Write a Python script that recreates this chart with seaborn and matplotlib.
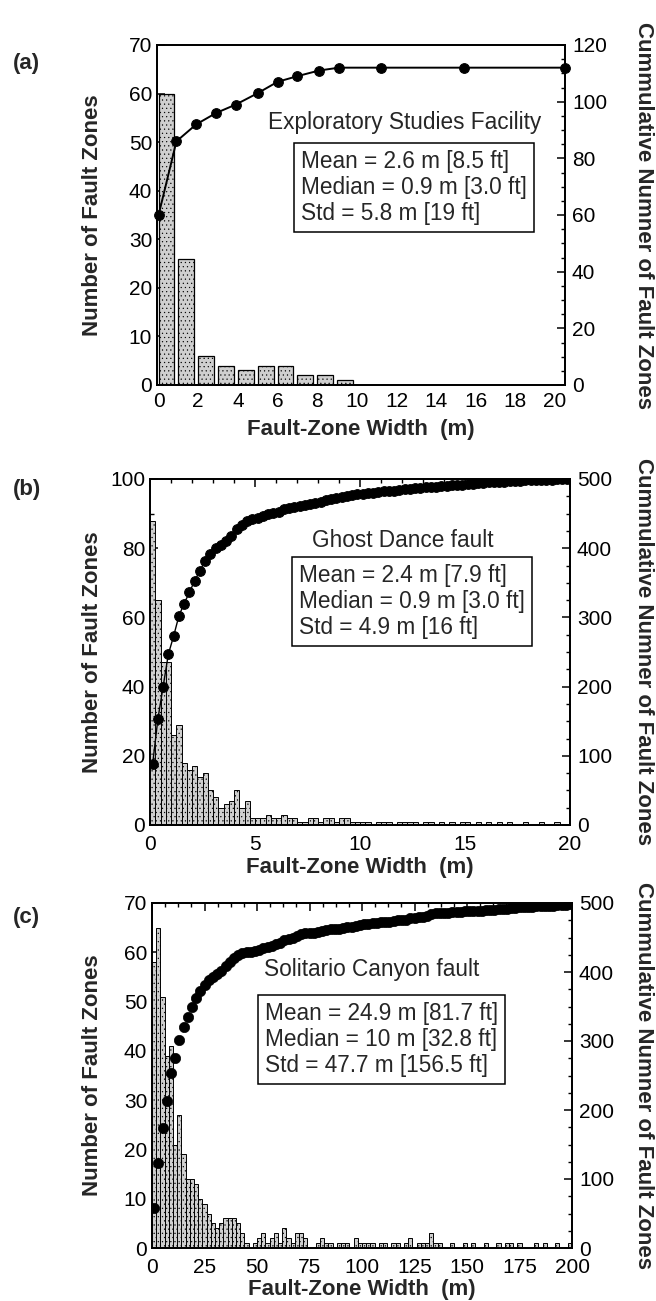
import numpy as np
import pandas as pd
import matplotlib
matplotlib.use("Agg")
import matplotlib.pyplot as plt
import seaborn as sns

# ---------------- data ----------------
# (a) Exploratory Studies Facility: 1 m bins
bins_a_left = [0, 1, 2, 3, 4, 5, 6, 7, 8, 9]
counts_a = [60, 26, 6, 4, 3, 4, 4, 2, 2, 1]
cum_x_a = [0.0, 0.9, 1.9, 2.9, 3.9, 5.0, 6.0, 7.0, 8.1, 9.1, 11.2, 15.4, 20.5]
cum_a = [60, 86, 92, 96, 99, 103, 107, 109, 111, 112, 112, 112, 112]

# (b) Ghost Dance fault: 0.25 m bins from 0 to 20 m
counts_b = [88, 65, 47, 47, 26, 29, 18, 16, 17, 14, 15, 10, 8, 5, 6, 7, 10, 5, 7, 2,
            2, 2, 3, 2, 2, 3, 2, 2, 1, 1, 2, 2, 1, 2, 2, 1, 2, 2, 1, 1,
            1, 1, 0, 1, 1, 1, 0, 1, 1, 1, 1, 0, 1, 1, 0, 1, 0, 1, 0, 1,
            1, 0, 1, 0, 1, 0, 1, 0, 1, 0, 0, 1, 0, 0, 1, 0, 0, 1, 0, 0]
bin_w_b = 0.25

# (c) Solitario Canyon fault: 2 m bins from 0 to 200 m
counts_c = [58, 65, 51, 39, 41, 21, 27, 19, 14, 14, 13, 10, 9, 7, 5, 4, 5, 6, 6, 6,
            5, 3, 1, 0, 1, 2, 3, 1, 2, 3, 1, 4, 2, 1, 3, 3, 2, 0, 0, 1,
            2, 1, 1, 0, 1, 1, 1, 0, 2, 1, 1, 1, 1, 0, 1, 1, 0, 1, 1, 0,
            1, 2, 0, 1, 1, 1, 3, 1, 1, 0, 0, 1, 0, 0, 1, 0, 1, 0, 0, 1,
            0, 0, 1, 0, 1, 1, 0, 1, 0, 0, 0, 1, 0, 1, 0, 0, 1, 0, 0, 1]
bin_w_c = 2.0

stats_a = ["Mean = 2.6 m [8.5 ft]", "Median = 0.9 m [3.0 ft]", "Std = 5.8 m [19 ft]"]
stats_b = ["Mean = 2.4 m [7.9 ft]", "Median = 0.9 m [3.0 ft]", "Std = 4.9 m [16 ft]"]
stats_c = ["Mean = 24.9 m [81.7 ft]", "Median = 10 m [32.8 ft]", "Std = 47.7 m [156.5 ft]"]
titles = ["Exploratory Studies Facility", "Ghost Dance fault", "Solitario Canyon fault"]
panel_tags = ["(a)", "(b)", "(c)"]

xlabel = "Fault-Zone Width  (m)"
ylabel_left = "Number of Fault Zones"
ylabel_right = "Cummulative Numner of Fault Zones"

# ---------------- style ----------------
sns.set_style("white")
plt.rcParams["font.family"] = ["Liberation Sans", "DejaVu Sans"]
plt.rcParams["hatch.linewidth"] = 0.35
plt.rcParams["axes.linewidth"] = 1.3
plt.rcParams["axes.edgecolor"] = "black"

fig = plt.figure(figsize=(6.56, 13.01), dpi=100)

W, H = 656.0, 1301.0


def axes_box(left, right, top, bottom):
    return [left / W, 1 - bottom / H, (right - left) / W, (bottom - top) / H]


boxes = [axes_box(157, 565, 45, 385),
         axes_box(150, 570, 479, 825),
         axes_box(152, 572, 903, 1248)]

TICK_FS = 15
LAB_FS = 16
TXT_FS = 16.3

bar_kw = dict(color="#cfcfcf", edgecolor="black", hatch="....", alpha=1.0)


def style_axes(ax, ax2, xpad=5):
    for a in (ax, ax2):
        a.tick_params(axis="both", which="both", direction="in", labelsize=TICK_FS,
                      colors="black")
        a.tick_params(which="major", length=6, width=1.1)
        a.tick_params(which="minor", length=3, width=1.0)
        for s in a.spines.values():
            s.set_color("black")
            s.set_linewidth(1.3)
    ax.tick_params(axis="x", pad=xpad)
    ax2.tick_params(axis="y", pad=5)
    ax.set_xlabel("")
    ax.set_ylabel("")
    ax2.set_ylabel("")


def hist_frame(centers, counts):
    return pd.DataFrame({"width": centers, "n": counts})


main_axes = []

# ---------------- panel (a) ----------------
ax = fig.add_axes(boxes[0])
centers_a = np.array(bins_a_left) + 0.4
sns.histplot(data=hist_frame(centers_a, counts_a), x="width", weights="n",
             binwidth=1.0, binrange=(-0.1, 9.9), shrink=0.8, ax=ax,
             linewidth=0.9, **bar_kw)
ax.set_xlim(-0.08, 20.5)
ax.set_ylim(0, 70)
ax.set_xticks(np.arange(0, 21, 2))
ax.set_yticks(np.arange(0, 71, 10))
ax2 = ax.twinx()
sns.lineplot(x=cum_x_a, y=cum_a, ax=ax2, color="black", linewidth=1.4,
             marker="o", markersize=7, markeredgecolor="black", clip_on=False)
ax2.set_ylim(0, 120)
ax2.set_yticks(np.arange(0, 121, 20))
ax2.set_yticks(np.arange(0, 121, 5), minor=True)
style_axes(ax, ax2, xpad=5)
main_axes.append(ax)

# ---------------- panel (b) ----------------
ax = fig.add_axes(boxes[1])
centers_b = (np.arange(len(counts_b)) + 0.5) * bin_w_b
sns.histplot(data=hist_frame(centers_b, counts_b), x="width", weights="n",
             binwidth=bin_w_b, binrange=(0, len(counts_b) * bin_w_b), shrink=1.0,
             ax=ax, linewidth=0.7, **bar_kw)
ax.set_xlim(0, 20)
ax.set_ylim(0, 100)
ax.set_xticks(np.arange(0, 21, 5))
ax.set_xticks(np.arange(0, 21, 1), minor=True)
ax.set_yticks(np.arange(0, 101, 20))
ax.set_yticks(np.arange(0, 101, 10), minor=True)
ax.tick_params(axis="x", which="both", top=True)
ax2 = ax.twinx()
sns.lineplot(x=centers_b, y=np.cumsum(counts_b), ax=ax2, color="black",
             linewidth=1.0, marker="o", markersize=7, markeredgecolor="black")
ax2.set_ylim(0, 500)
ax2.set_yticks(np.arange(0, 501, 100))
ax2.set_yticks(np.arange(0, 501, 25), minor=True)
style_axes(ax, ax2, xpad=7)
main_axes.append(ax)

# ---------------- panel (c) ----------------
ax = fig.add_axes(boxes[2])
centers_c = (np.arange(len(counts_c)) + 0.5) * bin_w_c
sns.histplot(data=hist_frame(centers_c, counts_c), x="width", weights="n",
             binwidth=bin_w_c, binrange=(0, len(counts_c) * bin_w_c), shrink=1.0,
             ax=ax, linewidth=0.7, **bar_kw)
ax.set_xlim(0, 200)
ax.set_ylim(0, 70)
ax.set_xticks(np.arange(0, 201, 25))
ax.set_xticks(np.arange(0, 201, 6.25), minor=True)
ax.set_yticks(np.arange(0, 71, 10))
ax.tick_params(axis="x", which="both", top=True)
ax2 = ax.twinx()
sns.scatterplot(x=centers_c, y=np.cumsum(counts_c), ax=ax2, color="black",
                s=55, edgecolor="black", linewidth=0.5)
ax2.set_ylim(0, 500)
ax2.set_yticks(np.arange(0, 501, 100))
ax2.set_yticks(np.arange(0, 501, 25), minor=True)
style_axes(ax, ax2, xpad=7)
main_axes.append(ax)

# ---------------- annotations ----------------
title_pos = [(0.606, 0.771), (0.602, 0.821), (0.523, 0.806)]
box_pos = [(0.353, 0.692), (0.355, 0.755), (0.269, 0.713)]
stats = [stats_a, stats_b, stats_c]
for ax, tp, bp, ttl, st in zip(main_axes, title_pos, box_pos, titles, stats):
    ax.text(tp[0], tp[1], ttl, transform=ax.transAxes, ha="center", va="center",
            fontsize=TXT_FS, zorder=5)
    ax.text(bp[0], bp[1], "\n".join(st), transform=ax.transAxes, ha="left", va="top",
            fontsize=TXT_FS, linespacing=1.18, zorder=5,
            bbox=dict(boxstyle="square,pad=0.3", facecolor="white", edgecolor="black",
                      linewidth=1.1))

# panel tags and axis titles
tag_y = [63, 490, 917]
xlab_y = [430, 867, 1290]
for i, bx in enumerate(boxes):
    fig.text(13 / W, 1 - tag_y[i] / H, panel_tags[i], fontsize=LAB_FS, fontweight="bold",
             ha="left", va="center")
    fig.text(bx[0] + bx[2] / 2, 1 - xlab_y[i] / H, xlabel, fontsize=LAB_FS,
             fontweight="bold", ha="center", va="center")
    fig.text(92 / W, bx[1] + bx[3] / 2, ylabel_left, fontsize=LAB_FS, fontweight="bold",
             rotation=90, ha="center", va="center")
    fig.text(643 / W, bx[1] + bx[3] / 2, ylabel_right, fontsize=LAB_FS,
             fontweight="bold", rotation=-90, ha="center", va="center")

fig.savefig("out.png", dpi=100, facecolor="white")
